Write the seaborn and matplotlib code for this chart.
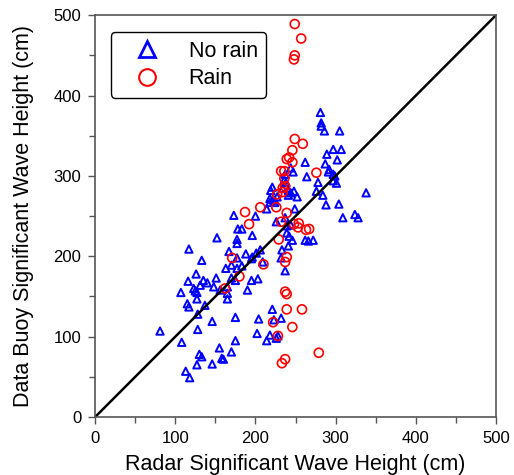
import matplotlib
matplotlib.use("Agg")
import matplotlib.pyplot as plt
from matplotlib.lines import Line2D
import seaborn as sns
import pandas as pd

# radar vs buoy significant wave height (cm)
norain_x = [281, 282, 282, 286, 305, 297, 307, 289, 302, 262, 287, 244, 247, 292, 291,
            297, 299, 264, 237, 236, 238, 278, 297, 301, 221, 219, 234, 241, 248, 276,
            338, 218, 222, 224, 227, 241, 244, 252, 284, 214, 249, 288, 304, 200, 173,
            309, 324, 328, 218, 224, 226, 237, 239, 244, 178, 183, 196, 152, 239, 242,
            246, 262, 266, 272, 177, 177, 241, 233, 117, 167, 188, 201, 206, 196, 195,
            177, 232, 133, 209, 170, 163, 177, 183, 237, 126, 151, 116, 135, 140, 131,
            170, 175, 195, 203, 148, 156, 165, 165, 190, 107, 123, 125, 127, 165, 127,
            115, 117, 137, 221, 175, 232, 204, 146, 128, 81, 128, 108, 175, 155, 170,
            130, 133, 158, 160, 146, 127, 113, 118, 223, 202, 218, 214, 226, 228]
norain_y = [379, 366, 362, 356, 356, 333, 333, 327, 320, 317, 315, 310, 305, 308, 305,
            302, 300, 299, 302, 295, 292, 292, 294, 291, 286, 282, 285, 282, 281, 281,
            279, 272, 270, 270, 274, 276, 279, 274, 276, 259, 259, 264, 265, 250, 251,
            248, 252, 248, 267, 267, 243, 248, 238, 239, 234, 234, 226, 223, 229, 225,
            220, 220, 219, 220, 221, 216, 213, 208, 209, 206, 203, 204, 208, 199, 197,
            198, 198, 195, 193, 189, 185, 185, 188, 182, 178, 173, 169, 170, 167, 164,
            173, 170, 170, 172, 162, 158, 162, 154, 158, 155, 160, 157, 155, 147, 147,
            141, 137, 139, 134, 124, 123, 122, 119, 128, 107, 109, 93, 95, 86, 81,
            78, 75, 73, 72, 66, 65, 57, 49, 121, 104, 102, 95, 98, 101]

rain_x = [249, 257, 249, 248, 249, 259, 246, 242, 239, 246, 232, 236, 236, 237, 234,
          234, 227, 276, 187, 206, 226, 239, 192, 232, 248, 254, 253, 263, 267, 229,
          171, 239, 237, 210, 180, 162, 237, 239, 239, 258, 222, 246, 228, 279, 237, 233]
rain_y = [489, 471, 450, 445, 346, 340, 332, 323, 321, 317, 306, 306, 297, 287, 285,
          280, 277, 304, 255, 261, 261, 254, 240, 243, 240, 241, 236, 233, 234, 221,
          198, 199, 193, 190, 175, 160, 156, 153, 134, 134, 118, 112, 101, 80, 72, 67]

diag = [0, 500]

df = pd.concat([
    pd.DataFrame({"radar": norain_x, "buoy": norain_y, "cond": "No rain"}),
    pd.DataFrame({"radar": rain_x, "buoy": rain_y, "cond": "Rain"}),
])

sns.set_style("white")
plt.rcParams["font.family"] = ["Liberation Sans", "DejaVu Sans"]
plt.rcParams["text.color"] = "black"
plt.rcParams["axes.labelcolor"] = "black"
plt.rcParams["xtick.color"] = "black"
plt.rcParams["ytick.color"] = "black"

fig = plt.figure(figsize=(5.14, 4.75), dpi=100)
ax = fig.add_axes([0.185, 0.122, 0.780, 0.846])

sns.scatterplot(data=df[df.cond == "No rain"], x="radar", y="buoy", marker="^",
                s=28, facecolor="none", edgecolor="blue", linewidth=1.4, ax=ax)
sns.scatterplot(data=df[df.cond == "Rain"], x="radar", y="buoy", marker="o",
                s=42, facecolor="none", edgecolor="red", linewidth=1.2, ax=ax)
sns.lineplot(x=diag, y=diag, color="black", linewidth=1.8, ax=ax)

ax.set_xlim(0, 500)
ax.set_ylim(0, 500)
ax.set_xticks([0, 100, 200, 300, 400, 500])
ax.set_yticks([0, 100, 200, 300, 400, 500])
ax.set_xticks(range(50, 500, 100), minor=True)
ax.set_yticks(range(50, 500, 100), minor=True)
ax.tick_params(which="major", direction="out", length=5, width=1, labelsize=12,
               bottom=True, left=True, color="#555555", pad=5)
ax.tick_params(which="minor", direction="out", length=4, width=1,
               bottom=True, left=True, color="#555555")
for sp in ax.spines.values():
    sp.set_color("#555555")
    sp.set_linewidth(1.2)

ax.set_xlabel("Radar Significant Wave Height (cm)", fontsize=15.5, labelpad=6)
ax.set_ylabel("Data Buoy Significant Wave Height (cm)", fontsize=15.5, labelpad=14)

handles = [
    Line2D([], [], marker="^", linestyle="none", markersize=11, markerfacecolor="none",
           markeredgecolor="blue", markeredgewidth=2),
    Line2D([], [], marker="o", linestyle="none", markersize=12, markerfacecolor="none",
           markeredgecolor="red", markeredgewidth=1.5),
]
leg = ax.legend(handles, ["No rain", "Rain"], loc="upper left", bbox_to_anchor=(0.04, 0.958),
                borderaxespad=0, fontsize=15.5, frameon=True, fancybox=True,
                edgecolor="black", handletextpad=0.7, borderpad=0.4, labelspacing=0.3,
                handlelength=2.5)
leg.get_frame().set_linewidth(1.0)
leg.get_frame().set_alpha(1)

fig.savefig("out.png", dpi=100)
